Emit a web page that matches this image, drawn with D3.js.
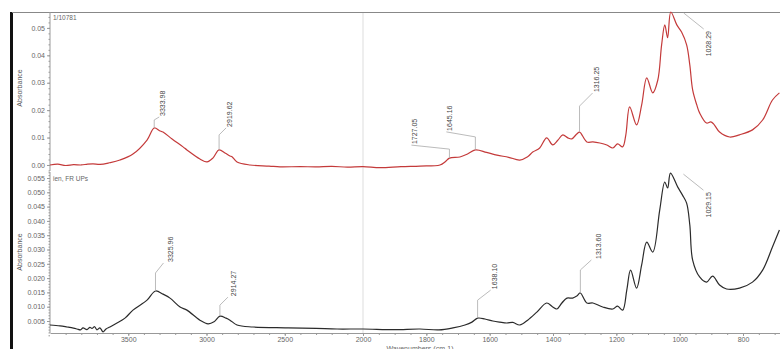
<!DOCTYPE html>
<html>
<head>
<meta charset="utf-8">
<script src="https://cdn.jsdelivr.net/npm/d3@7"></script>
<style>
  body { margin: 0; background: #fff; }
  svg { display: block; font-family: "Liberation Sans", Arial, sans-serif; }
</style>
</head>
<body>
<div id="chart"></div>
<script>
// spectrum 1 (top, red)
const topWave = [4000, 3950, 3900, 3850, 3800, 3760, 3725, 3680, 3620, 3553, 3470, 3380, 3334, 3300, 3278, 3220, 3150, 3125, 3042, 2997, 2958, 2920, 2882, 2850, 2837, 2805, 2722, 2600, 2530, 2400, 2300, 2200, 2100, 2000, 1946, 1880, 1820, 1757, 1740, 1727, 1694, 1670, 1645, 1610, 1577, 1540, 1505, 1480, 1464, 1442, 1420, 1401, 1385, 1369, 1353, 1341, 1325, 1316, 1293, 1274, 1252, 1230, 1211, 1196, 1180, 1170, 1158, 1136, 1120, 1104, 1085, 1069, 1057, 1047, 1038, 1028, 1009, 994, 978, 968, 959, 946, 937, 915, 902, 893, 874, 842, 811, 770, 738, 707, 685];
const topAbs = [0.0000, 0.0003, -0.0002, 0.0001, 0.0000, 0.0003, 0.0004, 0.0002, 0.0008, 0.0018, 0.0040, 0.0091, 0.0135, 0.0125, 0.0120, 0.0095, 0.0066, 0.0055, 0.0022, 0.0011, 0.0026, 0.0055, 0.0044, 0.0033, 0.0030, 0.0011, 0.0000, -0.0004, -0.0007, -0.0006, -0.0007, -0.0005, -0.0008, -0.0006, -0.0010, -0.0006, -0.0004, 0.0000, 0.0012, 0.0025, 0.0029, 0.0040, 0.0055, 0.0046, 0.0036, 0.0028, 0.0018, 0.0030, 0.0047, 0.0062, 0.0099, 0.0073, 0.0090, 0.0110, 0.0099, 0.0095, 0.0113, 0.0120, 0.0084, 0.0084, 0.0080, 0.0073, 0.0062, 0.0077, 0.0066, 0.0110, 0.0212, 0.0146, 0.0219, 0.0318, 0.0263, 0.0310, 0.0438, 0.0511, 0.0464, 0.0558, 0.0511, 0.0485, 0.0438, 0.0365, 0.0274, 0.0219, 0.0190, 0.0153, 0.0157, 0.0150, 0.0120, 0.0102, 0.0110, 0.0128, 0.0164, 0.0237, 0.0263];

// spectrum 2 (bottom, black)
const botWave = [4000, 3936, 3891, 3850, 3827, 3805, 3789, 3764, 3745, 3732, 3715, 3700, 3681, 3661, 3642, 3617, 3572, 3521, 3470, 3380, 3326, 3278, 3233, 3169, 3125, 3042, 2990, 2952, 2914, 2875, 2850, 2805, 2703, 2486, 2300, 2166, 2000, 1900, 1820, 1760, 1716, 1678, 1656, 1638, 1615, 1590, 1568, 1546, 1527, 1505, 1480, 1451, 1420, 1401, 1388, 1372, 1356, 1338, 1325, 1314, 1293, 1274, 1243, 1211, 1196, 1180, 1167, 1155, 1136, 1120, 1104, 1085, 1063, 1047, 1038, 1029, 1006, 991, 978, 968, 959, 937, 915, 896, 874, 852, 811, 770, 738, 707, 685];
const botAbs = [0.0036, 0.0033, 0.0029, 0.0025, 0.0022, 0.0019, 0.0026, 0.0020, 0.0028, 0.0024, 0.0030, 0.0019, 0.0026, 0.0012, 0.0022, 0.0029, 0.0043, 0.0060, 0.0088, 0.0123, 0.0155, 0.0144, 0.0130, 0.0099, 0.0088, 0.0053, 0.0040, 0.0047, 0.0067, 0.0060, 0.0053, 0.0036, 0.0029, 0.0026, 0.0024, 0.0022, 0.0022, 0.0020, 0.0022, 0.0019, 0.0026, 0.0036, 0.0046, 0.0060, 0.0057, 0.0050, 0.0046, 0.0043, 0.0045, 0.0036, 0.0053, 0.0081, 0.0113, 0.0099, 0.0092, 0.0113, 0.0130, 0.0130, 0.0137, 0.0148, 0.0113, 0.0113, 0.0099, 0.0092, 0.0102, 0.0088, 0.0158, 0.0228, 0.0165, 0.0246, 0.0326, 0.0291, 0.0438, 0.0536, 0.0515, 0.0567, 0.0518, 0.0490, 0.0462, 0.0386, 0.0263, 0.0204, 0.0186, 0.0207, 0.0176, 0.0162, 0.0165, 0.0186, 0.0228, 0.0309, 0.0368];

// ticks
const xMajorTicks = [3500, 3000, 2500, 2000, 1800, 1600, 1400, 1200, 1000, 800];
const topYTicks = [0.00, 0.01, 0.02, 0.03, 0.04, 0.05];
const botYTicks = [0.005, 0.010, 0.015, 0.020, 0.025, 0.030, 0.035, 0.040, 0.045, 0.050, 0.055];

// peak labels
const topPeaks = [3333.98, 2919.62, 1727.05, 1645.16, 1316.25, 1028.29];
const topPeakAbs = [0.0135, 0.0055, 0.0025, 0.0055, 0.0120, 0.0558];
const botPeaks = [3325.96, 2914.27, 1638.10, 1313.60, 1029.15];
const botPeakAbs = [0.0155, 0.0067, 0.0060, 0.0148, 0.0567];

// leader layout: [rise, elbow dx, elbow dy, text x offset]
const topLeader = [[8, 5, 3, 8], [15, 7, 7, 10], [9, -38, 4, -35], [13, -29, 5, -26], [26, 13, 13, 17], ["down"]];
const botLeader = [[18, 8, 10, 15], [11, 8, 8, 14], [18, 13, 10, 17], [23, 11, 10, 18], ["down"]];

const W = 780, H = 349;
const svg = d3.select("#chart").append("svg").attr("width", W).attr("height", H);

const x = d3.scaleLinear().domain([4000, 2000, 680]).range([50, 363, 781]);
const yTop = d3.scaleLinear().domain([-0.0022, 0.0558]).range([171, 12]);
const yBot = d3.scaleLinear().domain([0, 0.0571]).range([335.3, 172]);

// frame
svg.append("line").attr("x1", 11.5).attr("x2", 11.5).attr("y1", 12).attr("y2", H)
  .attr("stroke", "#111").attr("stroke-width", 3);
svg.append("line").attr("x1", 12).attr("x2", W).attr("y1", 12.5).attr("y2", 12.5)
  .attr("stroke", "#888");

// scale change line at 2000
svg.append("line").attr("x1", x(2000)).attr("x2", x(2000)).attr("y1", 13).attr("y2", 333)
  .attr("stroke", "#ddd");

function yAxis(scale, ticks, fmt, minorStep, y0, y1) {
  const g = svg.append("g").attr("transform", "translate(50,0)");
  g.call(d3.axisLeft(scale).tickValues(ticks).tickFormat(d3.format(fmt)).tickSize(3).tickSizeOuter(0));
  const minor = d3.range(Math.ceil(scale.domain()[0] / minorStep) * minorStep, scale.domain()[1], minorStep);
  g.append("g").call(d3.axisLeft(scale).tickValues(minor).tickFormat("").tickSize(1.5).tickSizeOuter(0))
    .select(".domain").remove();
  g.select(".domain").attr("d", `M0,${y0}V${y1}`);
  g.selectAll("path,line").attr("stroke", "#999");
  g.selectAll("text").attr("fill", "#666").attr("font-size", 7).attr("dx", 1);
  return g;
}
yAxis(yTop, topYTicks, ".2f", 0.002, 12, 171);
yAxis(yBot, botYTicks, ".3f", 0.001, 172, 333);

// x axis
const xg = svg.append("g").attr("transform", "translate(0,333)");
xg.call(d3.axisBottom(x).tickValues(xMajorTicks).tickFormat(d3.format("d")).tickSize(3).tickPadding(1.5).tickSizeOuter(0));
const xMinor = d3.range(3900, 2000, -100).concat(d3.range(1950, 680, -50));
xg.append("g").call(d3.axisBottom(x).tickValues(xMinor).tickFormat("").tickSize(2).tickSizeOuter(0))
  .select(".domain").remove();
xg.selectAll("path,line").attr("stroke", "#999");
xg.selectAll("text").attr("fill", "#666").attr("font-size", 7);

svg.append("text").attr("x", 420).attr("y", 351).attr("text-anchor", "middle")
  .attr("font-size", 7).attr("fill", "#666").text("Wavenumbers (cm-1)");

// y labels
[[88, "Absorbance"], [252, "Absorbance"]].forEach(([cy, t]) => {
  svg.append("text").attr("transform", `translate(22,${cy}) rotate(-90)`)
    .attr("text-anchor", "middle").attr("font-size", 7).attr("fill", "#555").text(t);
});

// panel titles
svg.append("text").attr("x", 53).attr("y", 20).attr("font-size", 6.5).attr("fill", "#666").text("1/10781");
svg.append("text").attr("x", 53).attr("y", 181).attr("font-size", 6.5).attr("fill", "#666").text("ien, FR UPs");

// spectra
function drawSpectrum(wave, abs, yScale, color) {
  const pts = wave.map((w, i) => [w, abs[i]]);
  svg.append("path").datum(pts)
    .attr("fill", "none").attr("stroke", color).attr("stroke-width", 1.2)
    .attr("stroke-linejoin", "round")
    .attr("d", d3.line().x(d => x(d[0])).y(d => yScale(d[1])).curve(d3.curveCatmullRom.alpha(0.5)));
}
drawSpectrum(topWave, topAbs, yTop, "#c43a3a");
drawSpectrum(botWave, botAbs, yBot, "#2b2b2b");

// peak labels
function drawPeaks(peaks, vals, yScale, layout) {
  const g = svg.append("g");
  peaks.forEach((p, i) => {
    const px = x(p), py = yScale(vals[i]);
    const lay = layout[i];
    const label = p.toFixed(2);
    if (lay[0] === "down") {
      // leader goes down-right, label sits below
      const ex = px + 33, ey = py + 17;
      g.append("path").attr("d", `M${px + 13},${py + 1}L${ex},${ey}`)
        .attr("fill", "none").attr("stroke", "#aaa").attr("stroke-width", 0.8);
      g.append("text").attr("transform", `translate(${ex + 5},${ey + 2}) rotate(-90)`)
        .attr("text-anchor", "end").attr("dy", "0.35em")
        .attr("font-size", 7).attr("fill", "#444").text(label);
      return;
    }
    const [rise, dx, dy, tx] = lay;
    const y1 = py - rise, x2 = px + dx, y2 = y1 - dy;
    g.append("path").attr("d", `M${px},${py}V${y1}L${x2},${y2}`)
      .attr("fill", "none").attr("stroke", "#aaa").attr("stroke-width", 0.8);
    g.append("text").attr("transform", `translate(${px + tx},${y2 - 1}) rotate(-90)`)
      .attr("text-anchor", "start").attr("dy", "0.35em")
      .attr("font-size", 7).attr("fill", "#444").text(label);
  });
}
drawPeaks(topPeaks, topPeakAbs, yTop, topLeader);
drawPeaks(botPeaks, botPeakAbs, yBot, botLeader);
</script>
</body>
</html>
